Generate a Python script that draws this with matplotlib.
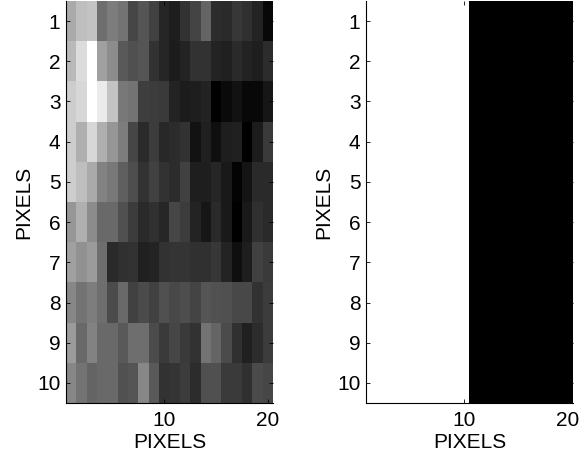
import numpy as np
import matplotlib
matplotlib.use('Agg')
import matplotlib.pyplot as plt

plt.rcParams['font.family'] = ['Liberation Sans', 'DejaVu Sans']
plt.rcParams['font.size'] = 15

# grey levels, one list per row of pixels
row1 = [170, 190, 195, 110, 125, 115, 70, 85, 65, 38, 30, 50, 68, 100, 45, 42, 55, 48, 35, 8]
row2 = [185, 220, 255, 160, 140, 90, 80, 85, 50, 38, 28, 35, 50, 50, 35, 32, 42, 35, 30, 45]
row3 = [205, 215, 255, 235, 195, 120, 115, 62, 60, 58, 35, 28, 30, 35, 0, 10, 18, 8, 8, 22]
row4 = [205, 175, 215, 175, 150, 125, 70, 42, 60, 40, 45, 50, 18, 33, 15, 30, 32, 0, 28, 58]
row5 = [205, 190, 170, 130, 120, 95, 78, 50, 65, 50, 45, 65, 30, 30, 38, 25, 3, 20, 42, 42]
row6 = [150, 175, 140, 105, 105, 80, 60, 42, 48, 38, 70, 60, 35, 22, 42, 25, 0, 25, 48, 42]
row7 = [160, 145, 155, 110, 42, 48, 50, 32, 35, 50, 52, 52, 48, 48, 55, 35, 15, 30, 65, 58]
row8 = [135, 115, 125, 110, 75, 105, 65, 75, 65, 80, 72, 78, 68, 85, 82, 80, 72, 72, 50, 60]
row9 = [155, 105, 130, 105, 105, 90, 110, 110, 75, 58, 70, 58, 50, 115, 100, 75, 48, 32, 45, 60]
row10 = [135, 115, 100, 105, 105, 82, 85, 135, 90, 50, 52, 60, 45, 80, 80, 58, 58, 48, 75, 70]
left_rows = [row1, row2, row3, row4, row5, row6, row7, row8, row9, row10]

# right image: first ten columns white, the rest black
right_row = [255] * 10 + [0] * 10
right_rows = [right_row] * 10

yticks = [1, 2, 3, 4, 5, 6, 7, 8, 9, 10]
xticks = [10, 20]

W, H = 579, 454
fig = plt.figure(figsize=(W / 100, H / 100), dpi=100)
ax1 = fig.add_axes([66 / W, 1 - 403 / H, 207 / W, 402 / H])
ax2 = fig.add_axes([366 / W, 1 - 403 / H, 207 / W, 402 / H])

for ax, rows in ((ax1, left_rows), (ax2, right_rows)):
    ax.imshow(np.array(rows), cmap='gray', vmin=0, vmax=255, aspect='auto',
              interpolation='nearest', extent=(0.5, 20.5, 10.5, 0.5))
    ax.set_xticks(xticks)
    ax.set_yticks(yticks)
    ax.tick_params(direction='in', length=3, width=0.6, top=True, right=True)
    ax.tick_params(axis='x', pad=6)
    ax.tick_params(axis='y', pad=4)
    ax.set_xlabel('PIXELS', labelpad=2)
    ax.set_ylabel('PIXELS', labelpad=3)
    for name, s in ax.spines.items():
        s.set_linewidth(0.8)
        # only the left and bottom edges show in the reference
        if name in ('top', 'right'):
            s.set_visible(False)

fig.savefig('out.png', dpi=100)
